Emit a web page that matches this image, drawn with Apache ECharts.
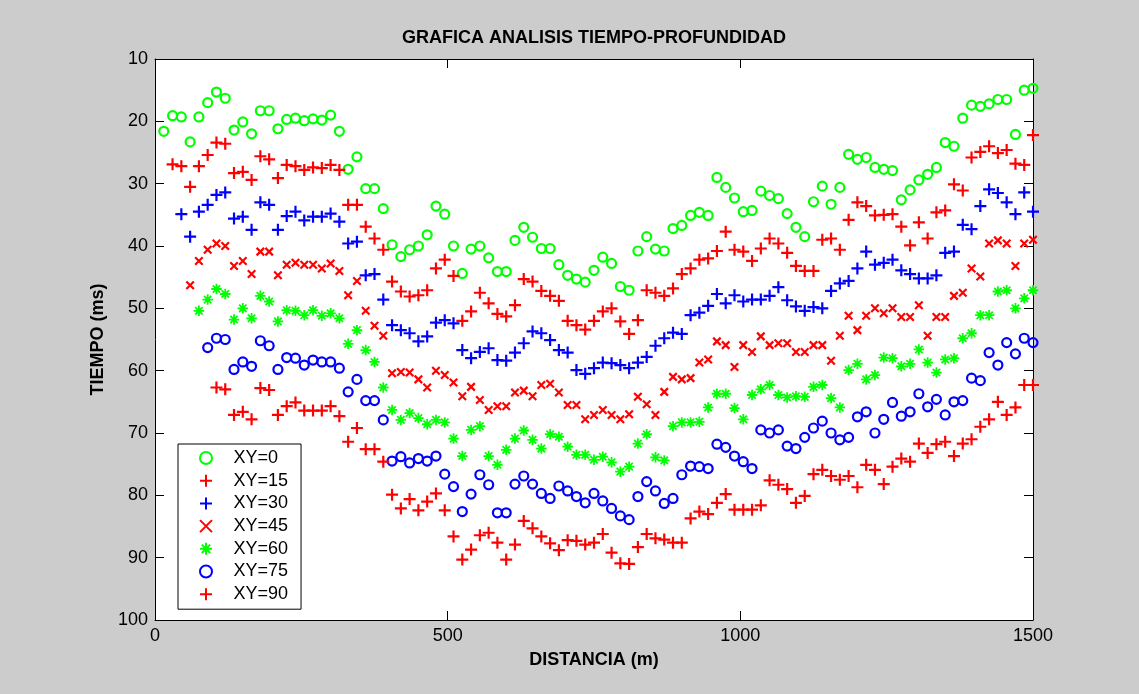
<!DOCTYPE html>
<html>
<head>
<meta charset="utf-8">
<title>GRAFICA ANALISIS TIEMPO-PROFUNDIDAD</title>
<script src="https://cdn.jsdelivr.net/npm/echarts@6/dist/echarts.min.js"></script>
<style>
  html, body { margin: 0; padding: 0; background: #cccccc; }
  #chart { width: 1139px; height: 694px; }
</style>
</head>
<body>
<div id="chart"></div>
<script>
// distancia (m), una muestra cada 15 m
var distancia = [
  15, 30, 45, 60, 75, 90, 105, 120, 135, 150,
  165, 180, 195, 210, 225, 240, 255, 270, 285, 300,
  315, 330, 345, 360, 375, 390, 405, 420, 435, 450,
  465, 480, 495, 510, 525, 540, 555, 570, 585, 600,
  615, 630, 645, 660, 675, 690, 705, 720, 735, 750,
  765, 780, 795, 810, 825, 840, 855, 870, 885, 900,
  915, 930, 945, 960, 975, 990, 1005, 1020, 1035, 1050,
  1065, 1080, 1095, 1110, 1125, 1140, 1155, 1170, 1185, 1200,
  1215, 1230, 1245, 1260, 1275, 1290, 1305, 1320, 1335, 1350,
  1365, 1380, 1395, 1410, 1425, 1440, 1455, 1470, 1485, 1500
];

// tiempo (ms) para cada offset XY; null = sin dato en esa distancia
var xy0 = [
  21.6, 19.1, 19.3, 23.3, 19.3, 17.0, 15.3, 16.3, 21.4, 20.1,
  22.0, 18.3, 18.3, 21.2, 19.7, 19.5, 19.9, 19.6, 19.8, 19.0,
  21.6, 27.7, 25.7, 30.8, 30.8, 34.0, 39.8, 41.7, 40.6, 40.0,
  38.2, 33.6, 34.9, 40.0, 44.4, 40.5, 40.0, 41.9, 44.1, 44.1,
  39.1, 37.0, 38.6, 40.4, 40.4, 43.0, 44.7, 45.3, 45.8, 43.9,
  41.8, 42.8, 46.5, 47.1, 40.8, 38.5, 40.5, 40.8, 37.2, 36.7,
  35.1, 34.6, 35.1, 29.0, 30.6, 32.3, 34.5, 34.3, 31.2, 31.9,
  32.4, 34.8, 37.0, 38.5, 32.9, 30.4, 33.3, 30.6, 25.3, 26.1,
  25.8, 27.4, 27.7, 27.9, 32.6, 31.0, 29.4, 28.5, 27.4, 23.4,
  24.0, 19.5, 17.4, 17.6, 17.2, 16.5, 16.5, 22.1, 15.0, 14.7
];
var xy15 = [
  null, 26.9, 27.2, 30.5, 27.2, 25.4, 23.4, 23.6, 28.3, 28.1,
  29.4, 25.6, 26.1, 29.1, 27.0, 27.2, 27.8, 27.4, 27.5, 27.0,
  27.8, 33.4, 33.4, 36.9, 38.8, 40.6, 45.7, 47.3, 48.1, 47.9,
  47.1, 43.6, 42.2, 44.8, 52.0, 50.5, 47.5, 49.2, 50.9, 51.3,
  49.5, 45.3, 45.7, 47.2, 48.0, 48.8, 52.0, 52.7, 53.4, 52.0,
  50.5, 50.0, 52.1, 54.1, 51.9, 47.1, 47.5, 48.0, 46.8, 44.5,
  43.6, 42.2, 42.0, 40.8, 37.7, 40.6, 40.9, 42.4, 40.4, 38.8,
  39.6, 41.1, 43.2, 44.0, 44.0, 39.0, 38.8, 40.6, 35.8, 33.0,
  33.6, 35.1, 35.0, 34.9, 36.9, 39.9, 36.2, 38.8, 34.6, 34.3,
  30.1, 31.1, 25.8, 24.9, 24.0, 25.1, 24.6, 26.8, 27.0, 22.2
];
var xy30 = [
  null, null, 34.9, 38.5, 34.5, 33.4, 31.8, 31.4, 35.6, 35.3,
  37.4, 33.0, 33.4, 37.4, 35.2, 34.5, 35.9, 35.3, 35.3, 34.8,
  36.1, 39.6, 39.3, 44.7, 44.5, 48.6, 52.7, 53.5, 54.0, 55.3,
  54.5, 52.3, 51.9, 52.4, 56.7, 58.0, 57.0, 56.4, 58.3, 58.4,
  57.1, 55.6, 53.7, 54.0, 55.1, 56.7, 57.1, 59.9, 60.5, 59.6,
  58.7, 58.8, 59.1, 59.6, 58.7, 57.8, 56.0, 54.8, 53.9, 54.1,
  51.1, 50.7, 49.6, 47.7, 49.2, 47.9, 48.9, 48.6, 48.6, 48.0,
  46.6, 48.7, 49.7, 50.4, 49.8, 50.0, 47.2, 46.0, 45.6, 43.6,
  40.9, 43.0, 42.7, 42.2, 43.9, 44.5, 45.2, 45.2, 44.7, 41.1,
  40.9, 36.6, 37.3, 33.6, 30.9, 31.5, 33.0, 34.9, 31.4, 34.5
];
var xy45 = [
  null, null, null, 46.3, 42.4, 40.6, 39.6, 40.0, 43.2, 42.4,
  44.5, 40.9, 40.9, 44.7, 43.0, 42.7, 43.0, 43.0, 43.6, 42.8,
  44.0, 47.9, 45.6, 50.4, 52.8, 54.4, 60.4, 60.2, 60.3, 61.4,
  62.7, 60.0, 60.7, 61.9, 64.1, 62.6, 64.7, 66.3, 65.7, 65.7,
  63.5, 63.2, 64.1, 62.3, 62.1, 63.5, 65.5, 65.5, 67.8, 67.1,
  66.3, 67.1, 67.8, 67.0, 64.2, 65.4, 67.1, 63.4, 61.0, 61.4,
  61.2, 58.7, 58.2, 55.3, 55.9, 59.4, 55.9, 57.0, 54.5, 55.9,
  55.6, 55.6, 57.0, 57.0, 55.9, 55.9, 58.4, 54.4, 51.2, 53.5,
  51.2, 50.0, 50.8, 50.0, 51.4, 51.4, 49.5, 54.4, 51.4, 51.4,
  48.0, 47.5, 43.6, 44.9, 39.6, 39.1, 39.6, 43.2, 39.6, 39.0
];
var xy60 = [
  null, null, null, null, 50.4, 48.6, 46.9, 47.7, 51.8, 50.0,
  51.6, 48.0, 48.9, 52.1, 50.3, 50.4, 51.1, 50.3, 51.2, 50.8,
  51.6, 55.7, 53.5, 56.7, 58.6, 62.7, 66.3, 67.9, 66.8, 67.6,
  68.6, 67.9, 68.3, 70.9, 73.7, 69.5, 68.9, 73.7, 75.1, 72.7,
  70.9, 69.6, 71.1, 72.5, 70.2, 70.6, 72.2, 73.5, 73.5, 74.3,
  73.8, 74.7, 76.2, 75.4, 71.7, 70.2, 73.9, 74.4, 68.9, 68.3,
  68.3, 68.2, 65.9, 63.7, 63.7, 66.0, 67.8, 63.9, 63.0, 62.3,
  63.9, 64.3, 64.1, 64.2, 62.6, 62.3, 64.4, 65.9, 59.9, 58.9,
  61.4, 60.7, 57.9, 58.0, 59.3, 58.9, 56.6, 58.7, 60.3, 58.2,
  58.0, 54.8, 54.0, 51.1, 51.1, 47.3, 47.1, 50.0, 48.4, 47.1
];
var xy75 = [
  null, null, null, null, null, 56.3, 54.8, 55.0, 59.8, 58.6,
  59.3, 55.2, 56.0, 59.8, 57.9, 58.0, 59.1, 58.3, 58.6, 58.6,
  59.6, 63.4, 61.4, 64.8, 64.8, 67.9, 74.5, 73.8, 74.8, 74.1,
  74.5, 73.7, 76.6, 78.6, 82.6, 79.8, 76.7, 78.3, 82.8, 82.8,
  78.2, 76.9, 78.2, 79.7, 80.5, 78.5, 79.3, 80.2, 81.2, 79.7,
  80.9, 82.1, 83.3, 83.9, 80.2, 77.8, 79.3, 81.3, 80.5, 76.7,
  75.3, 75.4, 75.7, 71.8, 72.3, 73.7, 74.6, 75.7, 69.5, 70.0,
  69.5, 72.1, 72.5, 70.7, 69.2, 68.1, 70.0, 71.1, 70.7, 67.4,
  66.6, 70.0, 67.8, 65.1, 67.3, 66.6, 63.7, 65.8, 64.6, 67.1,
  65.0, 64.8, 61.2, 61.6, 57.1, 59.1, 55.5, 57.3, 54.8, 55.5
];
var xy90 = [
  null, null, null, null, null, null, 62.7, 63.0, 67.1, 66.6,
  67.8, 62.8, 63.1, 67.1, 65.7, 65.1, 66.4, 66.4, 66.4, 65.7,
  67.3, 71.4, 69.2, 72.6, 72.6, 74.6, 79.9, 82.1, 80.6, 82.4,
  81.0, 79.7, 82.4, 86.6, 90.3, 88.7, 86.4, 86.0, 87.6, 90.3,
  87.9, 84.1, 85.3, 86.6, 87.7, 88.8, 87.2, 87.3, 87.9, 87.6,
  86.2, 89.2, 90.9, 91.0, 88.3, 86.2, 86.9, 87.1, 87.6, 87.6,
  83.7, 82.6, 83.0, 81.2, 79.8, 82.3, 82.3, 82.3, 81.6, 77.6,
  78.3, 79.0, 81.2, 80.1, 76.6, 75.9, 76.9, 77.5, 76.9, 78.7,
  75.1, 75.9, 78.2, 75.4, 74.1, 74.6, 71.7, 73.2, 71.8, 71.4,
  73.7, 71.7, 71.0, 69.0, 67.8, 65.0, 67.1, 65.9, 62.3, 62.3
];

var nombres = ['XY=0', 'XY=15', 'XY=30', 'XY=45', 'XY=60', 'XY=75', 'XY=90'];

// marcadores estilo matlab
var CIRCULO = 'circle';
var MAS = 'path://M0 5H10M5 0V10';
var CRUZ = 'path://M0 0L10 10M10 0L0 10';
var ESTRELLA = 'path://M0 5H10M5 0V10M1.5 1.5L8.5 8.5M8.5 1.5L1.5 8.5';

var FUENTE = '"Liberation Sans", Arial, Helvetica, sans-serif';

function puntos(tiempos) {
  var out = [];
  for (var i = 0; i < distancia.length; i++) {
    if (tiempos[i] != null) out.push([distancia[i], tiempos[i]]);
  }
  return out;
}

function serie(nombre, tiempos, simbolo, tam, color, grosor) {
  return {
    name: nombre,
    type: 'scatter',
    data: puntos(tiempos),
    symbol: simbolo,
    symbolSize: tam,
    clip: false,
    silent: true,
    itemStyle: { color: 'rgba(0,0,0,0)', borderColor: color, borderWidth: grosor, opacity: 1 }
  };
}

// etiquetas sin separador de miles (1000, 1500)
function sinComa(v) { return String(v); }

var chart = echarts.init(document.getElementById('chart'), null, { renderer: 'canvas' });

var ejeComun = {
  axisLine: { show: true, onZero: false, lineStyle: { color: '#000', width: 1 } },
  axisTick: { show: true, inside: true, length: 9, lineStyle: { color: '#000' } },
  splitLine: { show: false }
};

chart.setOption({
  backgroundColor: '#cccccc',
  animation: false,
  title: {
    text: 'GRAFICA ANALISIS TIEMPO-PROFUNDIDAD',
    left: 594,
    top: 29,
    textAlign: 'center',
    padding: 0,
    textStyle: { fontFamily: FUENTE, fontSize: 18, fontWeight: 'bold', color: '#000' }
  },
  grid: { left: 155, right: 106, top: 59, bottom: 74, backgroundColor: '#fff', show: true, borderWidth: 0 },
  legend: {
    orient: 'vertical',
    left: 178,
    top: 444,
    padding: [5, 13, 6, 21],
    itemWidth: 45,
    itemHeight: 12,
    itemGap: 4.7,
    backgroundColor: '#fff',
    borderColor: '#000',
    borderWidth: 1,
    borderRadius: 0,
    selectedMode: false,
    textStyle: { fontFamily: FUENTE, fontSize: 18, lineHeight: 18, color: '#000' },
    data: nombres
  },
  xAxis: [
    Object.assign({}, ejeComun, {
      type: 'value', min: 0, max: 1500, interval: 500, position: 'bottom',
      name: 'DISTANCIA (m)', nameLocation: 'middle', nameGap: 31,
      nameTextStyle: { fontFamily: FUENTE, fontSize: 18, fontWeight: 'bold', color: '#000' },
      axisLabel: { fontFamily: FUENTE, fontSize: 18, color: '#000', margin: 7, formatter: sinComa }
    }),
    Object.assign({}, ejeComun, {
      type: 'value', min: 0, max: 1500, interval: 500, position: 'top',
      axisLabel: { show: false }
    })
  ],
  yAxis: [
    Object.assign({}, ejeComun, {
      type: 'value', min: 10, max: 100, interval: 10, inverse: true, position: 'left',
      name: 'TIEMPO (ms)', nameLocation: 'middle', nameGap: 43,
      nameTextStyle: { fontFamily: FUENTE, fontSize: 18, fontWeight: 'bold', color: '#000' },
      axisLabel: { fontFamily: FUENTE, fontSize: 18, color: '#000', margin: 7, formatter: sinComa }
    }),
    Object.assign({}, ejeComun, {
      type: 'value', min: 10, max: 100, interval: 10, inverse: true, position: 'right',
      axisLabel: { show: false }
    })
  ],
  series: [
    serie(nombres[0], xy0, CIRCULO, 9, '#00ff00', 2.2),
    serie(nombres[1], xy15, MAS, 12, '#ff0000', 2.2),
    serie(nombres[2], xy30, MAS, 12, '#0000ff', 2.2),
    serie(nombres[3], xy45, CRUZ, 7.5, '#ff0000', 2.2),
    serie(nombres[4], xy60, ESTRELLA, 10.5, '#00ff00', 1.8),
    serie(nombres[5], xy75, CIRCULO, 9, '#0000ff', 2.2),
    serie(nombres[6], xy90, MAS, 12, '#ff0000', 2.2)
  ]
});
</script>
</body>
</html>
